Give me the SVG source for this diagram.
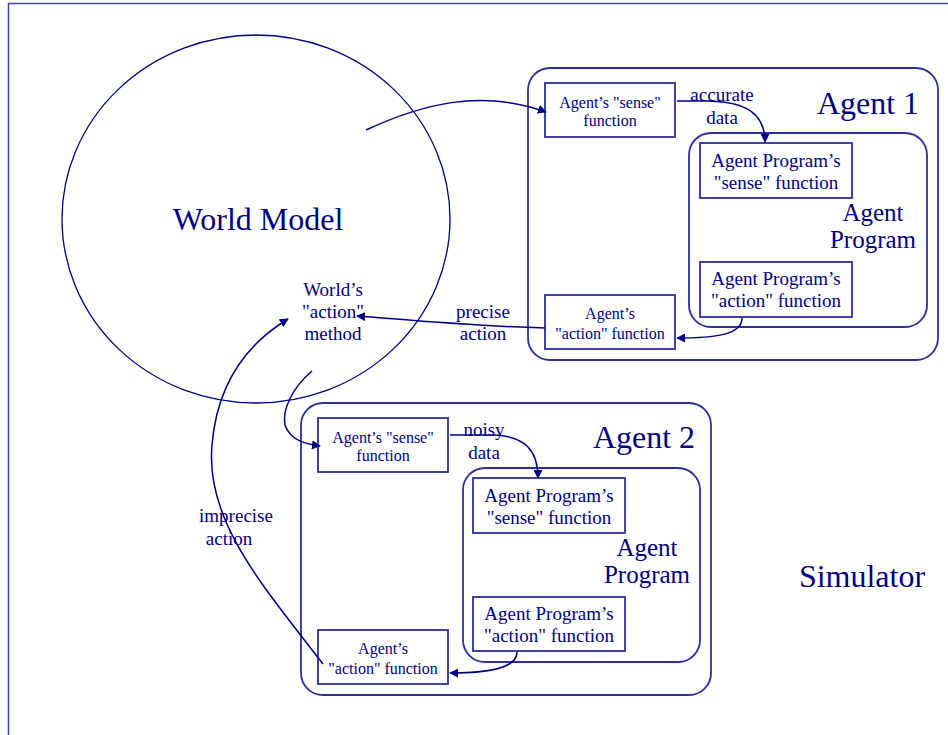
<svg xmlns="http://www.w3.org/2000/svg" width="948" height="735" viewBox="0 0 948 735">
<style>
text{font-family:"Liberation Serif","Times New Roman",serif;fill:#000080;text-anchor:middle}
.box{fill:none;stroke:#2e2e9a;stroke-width:1.8}
.cont{fill:none;stroke:#2e2e9a;stroke-width:1.8}
.edge{fill:none;stroke:#000080;stroke-width:1.5}
.s16{font-size:16px}.s19{font-size:19px}.s25{font-size:25px}.s32{font-size:32px}
</style>
<defs>
<marker id="ah" viewBox="0 0 10 10" refX="9" refY="5" markerWidth="9" markerHeight="9" markerUnits="userSpaceOnUse" orient="auto">
<path d="M0,0 L10,5 L0,10 z" fill="#000080"/>
</marker>
</defs>
<rect x="8.5" y="3.5" width="960" height="760" fill="none" stroke="#4444aa" stroke-width="1.5"/>
<g id="world">
<ellipse cx="256" cy="219" rx="194" ry="184" fill="none" stroke="#000080" stroke-width="1.3"/>
<text class="s32" x="258" y="230">World Model</text>
<text class="s19" x="333" y="296">World’s</text>
<text class="s19" x="333" y="318">"action"</text>
<text class="s19" x="333" y="340">method</text>
</g>
<g id="agent1">
<rect class="cont" x="528" y="68" width="410" height="292" rx="22"/>
<text class="s32" x="868" y="114">Agent 1</text>
</g>
<g id="a1sense">
<rect class="box" x="545" y="83" width="130" height="54"/>
<text class="s16" x="610" y="108">Agent’s "sense"</text>
<text class="s16" x="610" y="126">function</text>
</g>
<g id="ap1">
<rect class="cont" x="689" y="133" width="238" height="194" rx="22"/>
<text class="s25" x="873" y="221">Agent</text>
<text class="s25" x="873" y="248">Program</text>
</g>
<g id="ap1sense">
<rect class="box" x="700" y="143" width="152" height="55"/>
<text class="s19" x="776" y="167">Agent Program’s</text>
<text class="s19" x="776" y="189">"sense" function</text>
</g>
<g id="ap1action">
<rect class="box" x="700" y="262" width="152" height="55"/>
<text class="s19" x="776" y="285">Agent Program’s</text>
<text class="s19" x="776" y="307">"action" function</text>
</g>
<g id="a1action">
<rect class="box" x="545" y="295" width="130" height="54"/>
<text class="s16" x="610" y="319">Agent’s</text>
<text class="s16" x="610" y="339">"action" function</text>
</g>
<g id="agent2">
<rect class="cont" x="301" y="403" width="410" height="292" rx="22"/>
<text class="s32" x="644" y="448">Agent 2</text>
</g>
<g id="a2sense">
<rect class="box" x="318" y="418" width="130" height="54"/>
<text class="s16" x="383" y="443">Agent’s "sense"</text>
<text class="s16" x="383" y="461">function</text>
</g>
<g id="ap2">
<rect class="cont" x="463" y="468" width="237" height="194" rx="22"/>
<text class="s25" x="647" y="556">Agent</text>
<text class="s25" x="647" y="583">Program</text>
</g>
<g id="ap2sense">
<rect class="box" x="473" y="478" width="152" height="55"/>
<text class="s19" x="549" y="502">Agent Program’s</text>
<text class="s19" x="549" y="524">"sense" function</text>
</g>
<g id="ap2action">
<rect class="box" x="473" y="597" width="152" height="54"/>
<text class="s19" x="549" y="620">Agent Program’s</text>
<text class="s19" x="549" y="642">"action" function</text>
</g>
<g id="a2action">
<rect class="box" x="318" y="630" width="130" height="54"/>
<text class="s16" x="383" y="654">Agent’s</text>
<text class="s16" x="383" y="674">"action" function</text>
</g>
<g id="simulator">
<text class="s32" x="862" y="587">Simulator</text>
</g>
<g id="connectors">
<path class="edge" d="M366,130 C420,105 480,88 546,112" marker-end="url(#ah)"/>
<path class="edge" d="M677,101 L705,101 C748,101 765,115 765,142" marker-end="url(#ah)"/>
<path class="edge" d="M742,318 C742,335 715,338 677,338" marker-end="url(#ah)"/>
<path class="edge" d="M545,328 C470,326 420,321 357,316" marker-end="url(#ah)"/>
<path class="edge" d="M450,435 L495,435 C525,437 538,450 538,478" marker-end="url(#ah)"/>
<path class="edge" d="M517,652 C517,668 490,673 450,673" marker-end="url(#ah)"/>
<path class="edge" d="M312,371 C292,388 282,410 285,425 C290,440 305,444 320,446" marker-end="url(#ah)"/>
<path class="edge" d="M323,664 C262,585 205,520 212,445 C217,385 245,345 288,319" marker-end="url(#ah)"/>
<text class="s19" x="722" y="101">accurate</text>
<text class="s19" x="722" y="124">data</text>
<text class="s19" x="483" y="318">precise</text>
<text class="s19" x="483" y="340">action</text>
<text class="s19" x="484" y="436">noisy</text>
<text class="s19" x="484" y="459">data</text>
<text class="s19" x="236" y="522">imprecise</text>
<text class="s19" x="229" y="545">action</text>
</g>
</svg>
